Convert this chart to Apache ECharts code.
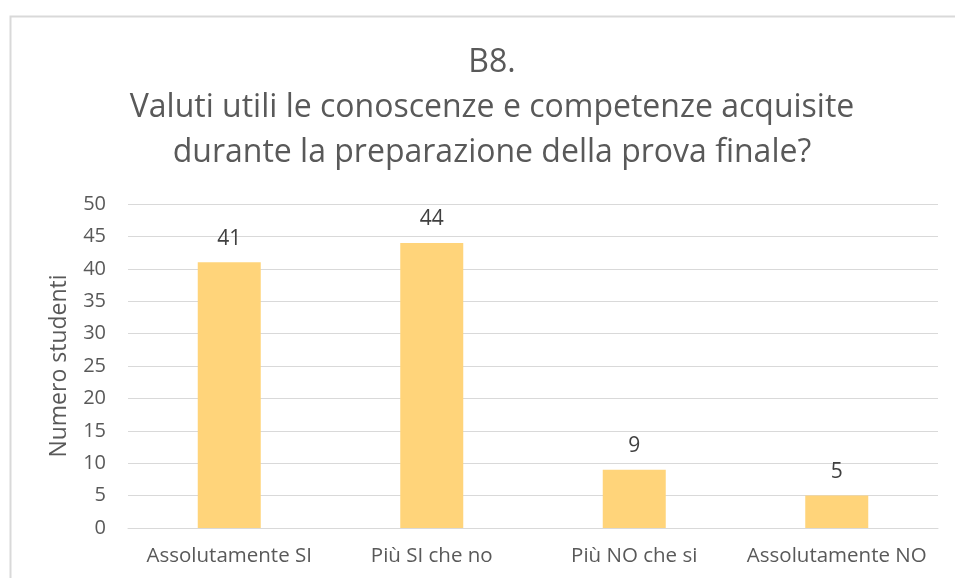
<!DOCTYPE html>
<html>
<head>
<meta charset="utf-8">
<script src="https://cdn.jsdelivr.net/npm/echarts@6/dist/echarts.min.js"></script>
<style>
html,body{margin:0;padding:0;background:#fff;}
#c{width:955px;height:578px;}
</style>
</head>
<body>
<div id="c"></div>
<script>
const categories = ["Assolutamente SI", "Più SI che no", "Più NO che si", "Assolutamente NO"];
const values = [41, 44, 9, 5];
const titleLines = ["B8.", "Valuti utili le conoscenze e competenze acquisite", "durante la preparazione della prova finale?"];
const yAxisName = "Numero studenti";

const FONT = "'Open Sans', 'Noto Sans', sans-serif";
const chart = echarts.init(document.getElementById('c'), null, {renderer: 'canvas'});
chart.setOption({
  animation: false,
  backgroundColor: '#fff',
  graphic: [{
    type: 'rect', left: 8, top: 14,
    shape: {width: 1000, height: 600},
    style: {fill: 'none', stroke: '#d9d9d9', lineWidth: 2},
    silent: true
  }],
  title: {
    text: titleLines.join('\n'),
    left: 487, top: 35, textAlign: 'center',
    textStyle: {fontFamily: FONT, fontSize: 32, fontWeight: 'normal', color: '#595959', lineHeight: 45}
  },
  grid: {left: 128, right: 17, top: 204, bottom: 50, containLabel: false},
  xAxis: {
    type: 'category', data: categories,
    axisLine: {lineStyle: {color: '#d9d9d9', width: 1}},
    axisTick: {show: false},
    axisLabel: {interval: 0, fontFamily: FONT, fontSize: 20.5, color: '#595959', margin: 18}
  },
  yAxis: {
    type: 'value', min: 0, max: 50, interval: 5,
    name: yAxisName, nameLocation: 'middle', nameGap: 57,
    nameTextStyle: {fontFamily: FONT, fontSize: 23, color: '#595959'},
    axisLine: {show: false}, axisTick: {show: false},
    axisLabel: {fontFamily: FONT, fontSize: 20, color: '#595959', margin: 22},
    splitLine: {lineStyle: {color: '#d9d9d9', width: 1}}
  },
  series: [{
    type: 'bar', data: values, barWidth: 63,
    itemStyle: {color: '#FFD47A'},
    label: {show: true, position: 'top', distance: 13, fontFamily: FONT, fontSize: 21, color: '#404040'}
  }]
});
</script>
</body>
</html>
